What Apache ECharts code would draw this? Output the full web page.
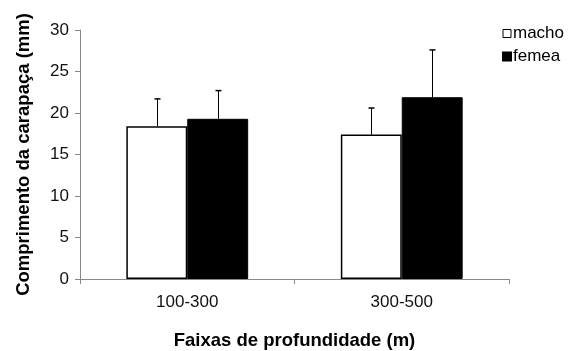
<!DOCTYPE html>
<html>
<head>
<meta charset="utf-8">
<script src="https://cdn.jsdelivr.net/npm/echarts@6/dist/echarts.min.js"></script>
<style>
  html, body { margin: 0; padding: 0; background: #fff; }
  #chart { width: 571px; height: 351px; }
</style>
</head>
<body>
<div id="chart"></div>
<script>
// faixas de profundidade
const categories = ['100-300', '300-500']
// médias (mm)
const machoMean = [18.4, 17.4]
const femeaMean = [19.3, 21.9]
// topo da barra de erro (média + desvio)
const machoErrTop = [21.7, 20.6]
const femeaErrTop = [22.7, 27.6]

const BAR_PCT = 0.284
const FONT = 'Liberation Sans, Arial, sans-serif'

// barra de erro só para cima, com traço no topo
function errorSeries (name, mean, top, side) {
  return {
    type: 'custom',
    name: name + '-err',
    z: 5,
    data: categories.map((c, i) => [i, mean[i], top[i]]),
    renderItem: function (params, api) {
      const bandW = api.size([1, 0])[0]
      const bw = bandW * BAR_PCT
      const base = api.coord([api.value(0), api.value(1)])
      const hi = api.coord([api.value(0), api.value(2)])
      const x = Math.round(base[0] + side * bw / 2) + 0.5
      return {
        type: 'group',
        children: [
          { type: 'line', shape: { x1: x, y1: base[1], x2: x, y2: hi[1] }, style: { stroke: '#000', lineWidth: 1 } },
          { type: 'line', shape: { x1: x - 3, y1: hi[1], x2: x + 3, y2: hi[1] }, style: { stroke: '#000', lineWidth: 1.5 } }
        ]
      }
    }
  }
}

const chart = echarts.init(document.getElementById('chart'))
chart.setOption({
  animation: false,
  grid: { left: 80, right: 62, top: 30, bottom: 72, outerBoundsMode: 'none', containLabel: false },
  legend: {
    orient: 'vertical',
    left: 497,
    top: 20,
    itemWidth: 8,
    itemHeight: 8,
    itemGap: 6,
    icon: 'rect',
    textStyle: { fontFamily: FONT, fontSize: 17, color: '#000', padding: [0, 0, 0, -3] },
    data: [
      { name: 'macho', itemStyle: { color: '#fff', borderColor: '#000', borderWidth: 1 } },
      { name: 'femea', itemStyle: { color: '#000' } }
    ]
  },
  xAxis: {
    type: 'category',
    data: categories,
    name: 'Faixas de profundidade (m)',
    nameLocation: 'middle',
    nameGap: 52,
    nameTextStyle: { fontFamily: FONT, fontSize: 18.5, fontWeight: 'bold', color: '#000' },
    axisLine: { lineStyle: { color: '#888', width: 1 } },
    axisTick: { show: true, length: 5, lineStyle: { color: '#888' } },
    axisLabel: { fontFamily: FONT, fontSize: 17, color: '#111', margin: 15 }
  },
  yAxis: {
    type: 'value',
    min: 0,
    max: 30,
    interval: 5,
    name: 'Comprimento da carapaça (mm)',
    nameLocation: 'middle',
    nameGap: 47,
    nameTextStyle: { fontFamily: FONT, fontSize: 18.5, fontWeight: 'bold', color: '#000' },
    axisLine: { show: true, lineStyle: { color: '#888', width: 1 } },
    axisTick: { show: true, length: 5, lineStyle: { color: '#888' } },
    axisLabel: { fontFamily: FONT, fontSize: 17, color: '#111', margin: 11 },
    splitLine: { show: false }
  },
  series: [
    {
      name: 'macho',
      type: 'bar',
      data: machoMean,
      barWidth: (BAR_PCT * 100) + '%',
      barGap: '0%',
      itemStyle: { color: '#fff', borderColor: '#000', borderWidth: 1.5 }
    },
    {
      name: 'femea',
      type: 'bar',
      data: femeaMean,
      barWidth: (BAR_PCT * 100) + '%',
      barGap: '0%',
      itemStyle: { color: '#000', borderColor: '#000', borderWidth: 1 }
    },
    errorSeries('macho', machoMean, machoErrTop, -1),
    errorSeries('femea', femeaMean, femeaErrTop, 1)
  ]
})
</script>
</body>
</html>
